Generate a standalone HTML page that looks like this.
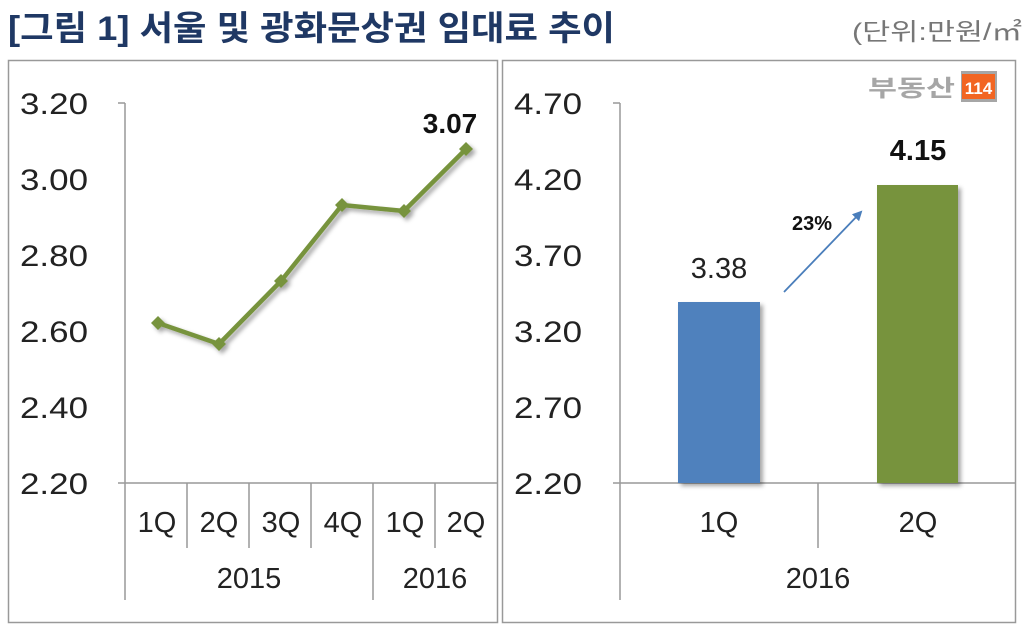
<!DOCTYPE html>
<html><head><meta charset="utf-8"><style>
html,body{margin:0;padding:0;background:#fff;}
svg{display:block;}
text{font-family:"Liberation Sans","Noto Sans CJK KR",sans-serif;}
</style></head><body>
<svg width="1024" height="637" viewBox="0 0 1024 637" xmlns="http://www.w3.org/2000/svg">
<defs>
<filter id="sh" x="-20%" y="-20%" width="150%" height="150%"><feDropShadow dx="3" dy="3" stdDeviation="2" flood-color="#000" flood-opacity="0.35"/></filter>
<marker id="ar" markerWidth="10" markerHeight="10" refX="8" refY="5" orient="auto" markerUnits="userSpaceOnUse"><path d="M0,0 L10,5 L0,10 z" fill="#4a7ebb"/></marker>
</defs>
<text x="8" y="40" font-size="34" font-weight="bold" fill="#1f3864" textLength="607" lengthAdjust="spacingAndGlyphs" font-family="'Noto Sans CJK KR',sans-serif">[그림 1] 서울 및 광화문상권 임대료 추이</text>
<text x="852" y="40" font-size="24" fill="#777" textLength="170" lengthAdjust="spacingAndGlyphs" font-family="'Noto Sans CJK KR',sans-serif">(단위:만원/㎡</text>
<!-- panels -->
<rect x="8.5" y="60.5" width="489" height="562" fill="#fff" stroke="#999" stroke-width="1.5"/>
<rect x="502.5" y="60.5" width="513" height="562" fill="#fff" stroke="#999" stroke-width="1.5"/>
<!-- left axis -->
<g font-size="30" fill="#222">
<text x="20" y="114" textLength="68" lengthAdjust="spacingAndGlyphs">3.20</text><text x="20" y="190" textLength="68" lengthAdjust="spacingAndGlyphs">3.00</text><text x="20" y="266" textLength="68" lengthAdjust="spacingAndGlyphs">2.80</text><text x="20" y="342" textLength="68" lengthAdjust="spacingAndGlyphs">2.60</text><text x="20" y="418" textLength="68" lengthAdjust="spacingAndGlyphs">2.40</text><text x="20" y="494" textLength="68" lengthAdjust="spacingAndGlyphs">2.20</text>
</g>
<g stroke="#999" stroke-width="1.5">
<line x1="125" y1="103" x2="125" y2="600"/>
<line x1="118" y1="103" x2="125" y2="103"/>
<line x1="118" y1="483" x2="498" y2="483"/>
<line x1="187" y1="483" x2="187" y2="548"/><line x1="249" y1="483" x2="249" y2="548"/><line x1="311" y1="483" x2="311" y2="548"/>
<line x1="373" y1="483" x2="373" y2="600"/><line x1="435" y1="483" x2="435" y2="548"/>
</g>
<g font-size="29" fill="#222" text-anchor="middle">
<text x="157" y="532">1Q</text><text x="219" y="532">2Q</text><text x="281" y="532">3Q</text><text x="343" y="532">4Q</text><text x="405" y="532">1Q</text><text x="466" y="532">2Q</text>
<text x="249" y="588">2015</text><text x="435" y="588">2016</text>
</g>
<g filter="url(#sh)">
<polyline points="158,323 219,344 281,281 342,205 404,211 466,149" fill="none" stroke="#77933c" stroke-width="4.5" stroke-linejoin="round"/>
<g fill="#77933c">
<path d="M158,316 l7,7 l-7,7 l-7,-7z"/><path d="M219,337 l7,7 l-7,7 l-7,-7z"/><path d="M281,274 l7,7 l-7,7 l-7,-7z"/><path d="M342,198 l7,7 l-7,7 l-7,-7z"/><path d="M404,204 l7,7 l-7,7 l-7,-7z"/><path d="M466,142 l7,7 l-7,7 l-7,-7z"/>
</g></g>
<text x="450" y="133" font-size="28" font-weight="bold" fill="#111" text-anchor="middle">3.07</text>
<!-- right axis -->
<g font-size="30" fill="#222">
<text x="514" y="114" textLength="68" lengthAdjust="spacingAndGlyphs">4.70</text><text x="514" y="190" textLength="68" lengthAdjust="spacingAndGlyphs">4.20</text><text x="514" y="266" textLength="68" lengthAdjust="spacingAndGlyphs">3.70</text><text x="514" y="342" textLength="68" lengthAdjust="spacingAndGlyphs">3.20</text><text x="514" y="418" textLength="68" lengthAdjust="spacingAndGlyphs">2.70</text><text x="514" y="494" textLength="68" lengthAdjust="spacingAndGlyphs">2.20</text>
</g>
<g stroke="#999" stroke-width="1.5">
<line x1="620" y1="103" x2="620" y2="600"/>
<line x1="613" y1="103" x2="620" y2="103"/>
<line x1="613" y1="483" x2="1016" y2="483"/>
<line x1="818" y1="483" x2="818" y2="548"/>
</g>
<rect x="678" y="302" width="82" height="181" fill="#4f81bd" filter="url(#sh)"/>
<rect x="877" y="185" width="81" height="298" fill="#77933c" filter="url(#sh)"/>
<text x="719" y="278" font-size="29" fill="#222" text-anchor="middle">3.38</text>
<text x="918" y="160" font-size="29" font-weight="bold" fill="#111" text-anchor="middle">4.15</text>
<line x1="784" y1="292" x2="861" y2="212" stroke="#4a7ebb" stroke-width="1.8" marker-end="url(#ar)"/>
<text x="812" y="230" font-size="20" font-weight="bold" fill="#111" text-anchor="middle">23%</text>
<g font-size="29" fill="#222" text-anchor="middle">
<text x="719" y="532">1Q</text><text x="918" y="532">2Q</text><text x="818" y="588">2016</text>
</g>
<!-- logo -->
<text x="868" y="96" font-size="23" font-weight="bold" fill="#a6a6a6" textLength="87" lengthAdjust="spacingAndGlyphs" font-family="'Noto Sans CJK KR',sans-serif">부동산</text>
<rect x="961" y="71" width="36" height="31" fill="#a6a6a6"/>
<rect x="962" y="74" width="33" height="25" fill="#f26522"/>
<text x="978.5" y="94" font-size="17" font-weight="bold" fill="#fff" text-anchor="middle">114</text>
</svg>
</body></html>
